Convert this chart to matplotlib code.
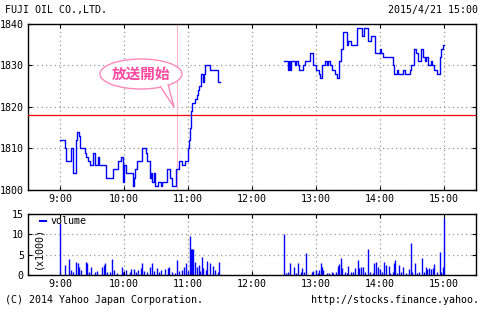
import matplotlib.pyplot as plt
from matplotlib.patches import Ellipse, Polygon
from matplotlib.lines import Line2D

# price steps: minutes after session open, price
am_min = [0, 5, 6, 10, 12, 15, 16, 18, 19, 23, 24, 26, 28, 31, 33, 36, 37, 43, 50, 54, 57, 59, 60, 62,
          68, 69, 70, 72, 77, 81, 82, 84, 85, 86, 88, 89, 92, 95, 96, 100, 103, 105, 109, 112, 114, 117,
          120, 121, 122, 123, 124, 127, 128, 129, 130, 132, 134, 135, 136, 141, 148, 150]
am_px = [1812, 1810, 1807, 1810, 1804, 1812, 1814, 1813, 1810, 1809, 1808, 1807, 1806, 1809, 1806, 1808,
         1806, 1803, 1805, 1807, 1808, 1802, 1806, 1804, 1801, 1803, 1805, 1807, 1810, 1809, 1807, 1803,
         1804, 1802, 1804, 1801, 1802, 1801, 1802, 1805, 1803, 1801, 1805, 1807, 1806, 1807, 1810, 1812,
         1815, 1819, 1821, 1822, 1823, 1824, 1825, 1828, 1826, 1828, 1830, 1829, 1826, 1826]
pm_min = [0, 4, 5, 6, 7, 10, 11, 13, 14, 18, 20, 24, 27, 30, 33, 34, 36, 38, 40, 41, 43, 45, 48, 50,
          52, 53, 55, 59, 60, 63, 68, 73, 75, 79, 82, 85, 90, 91, 93, 102, 103, 106, 107, 112, 113, 118,
          119, 122, 124, 126, 128, 130, 132, 133, 135, 138, 139, 141, 143, 146, 147, 149, 150]
pm_px = [1831, 1829, 1831, 1829, 1831, 1830, 1831, 1830, 1829, 1830, 1831, 1833, 1830, 1829, 1828, 1827,
         1830, 1831, 1830, 1831, 1830, 1829, 1828, 1827, 1831, 1834, 1838, 1835, 1836, 1835, 1839, 1837,
         1839, 1836, 1837, 1833, 1834, 1833, 1832, 1830, 1828, 1829, 1828, 1829, 1828, 1829, 1830, 1834,
         1833, 1831, 1834, 1832, 1831, 1832, 1830, 1831, 1830, 1829, 1828, 1832, 1834, 1835, 1835]
prev_close = 1818

# volume (x1000): minute after session open, value
am_vmin = [0, 5, 8, 10, 12, 15, 17, 18, 20, 24, 25, 27, 29, 33, 35, 39, 41, 42, 44, 47, 49, 51, 53, 58,
           59, 62, 66, 67, 69, 71, 73, 76, 77, 79, 82, 84, 86, 88, 91, 93, 95, 98, 101, 102, 105, 108,
           110, 112, 114, 116, 118, 120, 122, 123, 124, 125, 127, 128, 130, 131, 133, 134, 137, 138,
           141, 143, 145, 148, 149]
am_vol = [12.7, 2.5, 3.9, 1.2, 0.8, 3.3, 2.9, 2.0, 1.2, 3.1, 2.9, 0.8, 2.0, 0.8, 1.1, 2.0, 2.5, 2.9, 0.8,
          0.8, 3.9, 1.2, 0.6, 2.0, 0.8, 1.2, 0.8, 1.4, 1.4, 0.8, 1.2, 1.6, 2.9, 1.1, 0.8, 2.0, 2.9, 1.1,
          1.6, 0.8, 1.2, 1.4, 1.6, 2.0, 0.8, 0.6, 3.7, 1.0, 1.2, 2.0, 2.9, 1.1, 9.7, 6.4, 6.4, 6.4, 3.3,
          2.0, 2.5, 1.0, 4.5, 1.6, 1.2, 3.4, 2.9, 2.3, 1.2, 0.8, 3.1]
pm_vmin = [0, 2, 4, 6, 9, 11, 13, 16, 17, 19, 21, 26, 27, 30, 32, 33, 35, 36, 37, 40, 42, 45, 46, 49,
           51, 52, 53, 54, 57, 59, 60, 63, 65, 67, 69, 70, 72, 74, 76, 79, 81, 83, 84, 86, 88, 90, 92,
           94, 96, 98, 99, 102, 103, 104, 106, 108, 110, 112, 114, 117, 119, 120, 123, 125, 127, 129,
           131, 133, 134, 136, 138, 140, 141, 143, 146, 147, 149, 150]
pm_vol = [10.1, 0.6, 0.8, 2.9, 1.9, 0.6, 3.0, 0.8, 1.6, 0.8, 5.3, 0.8, 1.1, 1.2, 0.6, 1.2, 2.9, 1.9, 1.2,
          0.6, 0.4, 0.8, 0.6, 0.8, 2.2, 2.7, 4.3, 1.6, 0.8, 0.6, 2.2, 0.8, 0.8, 1.6, 3.7, 1.6, 1.9, 1.9,
          0.8, 6.4, 0.8, 0.6, 3.0, 3.3, 1.9, 1.4, 0.8, 3.3, 2.5, 2.2, 0.6, 0.8, 3.0, 3.7, 0.6, 2.5, 0.8,
          2.0, 0.6, 1.4, 7.8, 0.8, 2.9, 0.6, 0.8, 4.1, 0.8, 2.0, 1.4, 1.6, 1.4, 1.6, 2.7, 0.8, 5.6, 0.8,
          1.9, 13.9]

hour_ticks = [9, 10, 11, 12, 13, 14, 15]
hour_labels = ['9:00', '10:00', '11:00', '12:00', '13:00', '14:00', '15:00']
title = 'FUJI OIL CO.,LTD.'
stamp = '2015/4/21 15:00'

am_x = [9 + m / 60 for m in am_min]
pm_x = [12.5 + m / 60 for m in pm_min]
am_vx = [9 + m / 60 for m in am_vmin]
pm_vx = [12.5 + m / 60 for m in pm_vmin]

mono = 'DejaVu Sans Mono'
plt.rcParams['font.family'] = mono
plt.rcParams['font.size'] = 7.2

W, H = 480, 315
fig = plt.figure(figsize=(W / 100, H / 100), dpi=100)

def fax(l, t, r, b):
    return fig.add_axes([l / W, 1 - b / H, (r - l) / W, (b - t) / H])

ax = fax(28, 24, 476, 190)
ax2 = fax(28, 214, 476, 275)

for a in (ax, ax2):
    a.set_xlim(8.5, 15.5)
    a.set_xticks(hour_ticks)
    a.set_xticklabels(hour_labels)
    a.tick_params(direction='in', length=3, top=True, right=True, pad=3, labelsize=7.2)
    a.grid(True, color='#999999', linestyle=(0, (1, 2.5)), linewidth=0.9)
    for s in a.spines.values():
        s.set_linewidth(1.0)

ax.set_ylim(1800, 1840)
ax.set_yticks([1800, 1810, 1820, 1830, 1840])
ax.axhline(prev_close, color='red', lw=0.9, zorder=3)
ax.axvline(10 + 50 / 60, color='#ffb8c8', lw=0.8, zorder=2)
ax.step(am_x, am_px, where='post', color='blue', lw=1.0, zorder=4)
ax.step(pm_x, pm_px, where='post', color='blue', lw=1.0, zorder=4)

ax2.set_ylim(0, 15)
ax2.set_yticks([0, 5, 10, 15])
ax2.vlines(am_vx, 0, am_vol, color='blue', lw=1.0)
ax2.vlines(pm_vx, 0, pm_vol, color='blue', lw=1.0)
ax2.legend(handles=[Line2D([], [], color='blue', lw=1.5)], labels=['volume'], loc='upper left',
           bbox_to_anchor=(0.022, 1.0), frameon=False, handlelength=0.6, handletextpad=0.5,
           borderaxespad=0.1, borderpad=0.1, fontsize=7.2)
ax2.text(0.011, 0.45, '(x1000)', rotation=90, transform=ax2.transAxes, ha='left', va='center')

fig.text(5 / W, 1 - 10 / H, title, ha='left', va='center')
fig.text(478 / W, 1 - 10 / H, stamp, ha='right', va='center')
fig.text(5 / W, 1 - 300 / H, '(C) 2014 Yahoo Japan Corporation.', ha='left', va='center')
fig.text(479 / W, 1 - 300 / H, 'http://stocks.finance.yahoo.', ha='right', va='center')

# speech balloon
def px(x, y):
    return (x / W, 1 - y / H)

pink = '#ff88b8'
ell = Ellipse(px(141, 74), 82 / W, 30 / H, transform=fig.transFigure, facecolor='white',
              edgecolor=pink, lw=1.0, zorder=10)
fig.patches.append(ell)
tail = Polygon([px(160, 86), px(174, 107), px(168, 84)], closed=False, transform=fig.transFigure,
               facecolor='white', edgecolor=pink, lw=1.0, zorder=11)
fig.patches.append(tail)
fig.text(141 / W, 1 - 74 / H, '放送開始', ha='center', va='center', color='#ff4aa0',
         fontsize=10.5, fontweight='bold', family=['Noto Sans CJK JP', 'DejaVu Sans'], zorder=12)

fig.savefig('out.png', dpi=100)
